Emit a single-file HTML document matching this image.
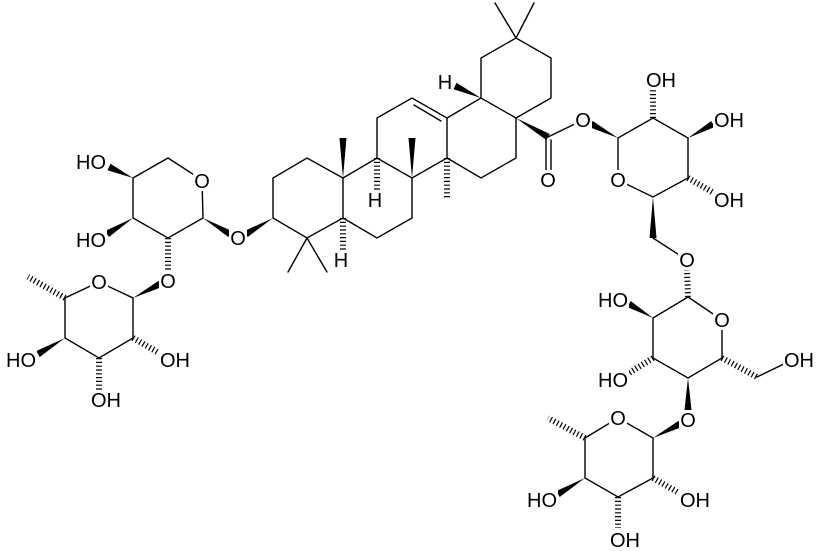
<!DOCTYPE html>
<html><head><meta charset="utf-8"><style>
html,body{margin:0;padding:0;background:#fff;}
svg{display:block;}
text{font-family:"Liberation Sans",Arial,sans-serif;font-size:20px;fill:#000;}
</style></head><body>
<svg width="822" height="551" viewBox="0 0 822 551" xmlns="http://www.w3.org/2000/svg">
<g stroke="#000" stroke-width="1.4" fill="none" stroke-linecap="round">
<!-- Arabinose -->
<polyline points="133,178 168,158 202,180 203,218 168,238 133,218 133,178"/>
<!-- Rha1 -->
<polyline points="99,282 133,298 133,338 99,358 65,338 65,298 99,282"/>
<!-- Ring A -->
<polyline points="273,218 273,178 307,158 343,178 343,218 307,238 273,218"/>
<line x1="307" y1="238" x2="288" y2="272"/><line x1="307" y1="238" x2="327" y2="272"/>
<!-- Ring B -->
<polyline points="343,218 377,238 412,218 412,178 377,158 343,178"/>
<!-- Ring C -->
<polyline points="377,158 377,118 412,98 447,118 447,158 412,178"/>
<line x1="414" y1="105" x2="441" y2="121"/>
<!-- Ring D -->
<polyline points="447,118 481,98 516,118 516,158 481,178 447,158"/>
<!-- Ring E -->
<polyline points="481,98 481,58 516,38 551,58 551,98 516,118"/>
<line x1="516" y1="38" x2="495" y2="3"/><line x1="516" y1="38" x2="534" y2="3"/>
<!-- ester -->
<line x1="548" y1="137" x2="583" y2="120"/>
<line x1="546" y1="138" x2="546" y2="174"/><line x1="551" y1="140" x2="551" y2="174"/>
<!-- Glc -->
<polyline points="618,180 653,197 688,178 688,138 653,118 618,138 618,180"/>
<line x1="653" y1="238" x2="687" y2="260"/>
<!-- Glc2 -->
<polyline points="722,320 722,358 688,378 653,358 653,318 688,297 722,320"/>
<line x1="757" y1="377" x2="792" y2="360"/>
<!-- Rha2 -->
<polyline points="618,418 585,438 585,478 618,497 653,478 653,438 618,418"/>
</g>
<!-- hashed bonds -->
<g stroke="#000" stroke-width="6" stroke-dasharray="1.2 2.6" fill="none">
<line x1="168" y1="238" x2="168" y2="272"/>
<line x1="65" y1="298" x2="28" y2="277"/>
<line x1="133" y1="338" x2="159" y2="353"/>
<line x1="99" y1="358" x2="99" y2="390"/>
<line x1="343" y1="218" x2="343" y2="250"/>
<line x1="377" y1="158" x2="377" y2="190"/>
<line x1="447" y1="158" x2="447" y2="198"/>
<line x1="653" y1="118" x2="653" y2="90"/>
<line x1="688" y1="178" x2="714" y2="193"/>
<line x1="688" y1="297" x2="687" y2="270"/>
<line x1="653" y1="358" x2="629" y2="373"/>
<line x1="722" y1="358" x2="757" y2="377"/>
<line x1="585" y1="438" x2="548" y2="418"/>
<line x1="653" y1="478" x2="679" y2="493"/>
<line x1="618" y1="497" x2="618" y2="528"/>
</g>
<!-- wedges -->
<g fill="#000">
<polygon points="133,178 110.5,163.8 107.5,170.2"/>
<polygon points="133,218 108.9,237 105.1,231"/>
<polygon points="203,218 228.3,237 231.7,231"/>
<polygon points="273,218 247.7,237 244.3,231"/>
<polygon points="133,298 161.5,287.1 158.5,280.9"/>
<polygon points="65,338 39.7,357 36.3,351"/>
<polygon points="343,178 339.5,138 346.5,138"/>
<polygon points="412,178 408.5,138 415.5,138"/>
<polygon points="481,98 456.5,82.8 453.5,89.2"/>
<polygon points="516,118 546.2,140 549.8,134"/>
<polygon points="618,138 592.6,120.9 589.4,127.1"/>
<polygon points="688,138 714.7,127 711.3,121"/>
<polygon points="653,197 649.5,238 656.5,238"/>
<polygon points="653,318 630.75,301 627.25,307"/>
<polygon points="688,378 684.5,410 691.5,410"/>
<polygon points="653,438 681.5,427.1 678.5,420.9"/>
<polygon points="585,478 559.7,497 556.3,491"/>
</g>
<!-- label backgrounds -->
<g fill="#fff">
<rect x="73" y="152" width="34" height="20"/><rect x="73" y="230" width="34" height="20"/>
<rect x="3" y="350" width="34" height="20"/><rect x="595" y="290" width="34" height="20"/>
<rect x="595" y="370" width="34" height="20"/><rect x="524" y="490" width="34" height="20"/>
<rect x="159" y="350" width="34" height="20"/><rect x="90" y="390" width="34" height="20"/>
<rect x="645" y="70" width="34" height="20"/><rect x="713" y="110" width="34" height="20"/>
<rect x="713" y="190" width="34" height="20"/><rect x="783" y="350" width="34" height="20"/>
<rect x="679" y="490" width="34" height="20"/><rect x="609" y="530" width="34" height="20"/>
<rect x="193" y="171" width="18" height="20"/><rect x="229" y="228" width="18" height="20"/>
<rect x="159" y="271" width="18" height="20"/><rect x="90" y="272" width="18" height="20"/>
<rect x="539" y="170" width="18" height="20"/><rect x="574" y="110" width="18" height="20"/>
<rect x="609" y="170" width="18" height="20"/><rect x="678" y="250" width="18" height="20"/>
<rect x="713" y="310" width="18" height="20"/><rect x="679" y="410" width="18" height="20"/>
<rect x="609" y="408" width="18" height="20"/>
<rect x="437" y="72" width="16" height="20"/><rect x="367" y="190" width="16" height="20"/>
<rect x="333" y="250" width="16" height="20"/>
</g>
<!-- labels -->
<g text-anchor="end">
<text x="106" y="169">HO</text><text x="106" y="247">HO</text>
<text x="36" y="367">HO</text><text x="628" y="307">HO</text>
<text x="628" y="387">HO</text><text x="557" y="507">HO</text>
</g>
<g text-anchor="start">
<text x="160" y="367">OH</text><text x="91" y="407">OH</text>
<text x="646" y="87">OH</text><text x="714" y="127">OH</text>
<text x="714" y="207">OH</text><text x="784" y="367">OH</text>
<text x="680" y="507">OH</text><text x="610" y="547">OH</text>
</g>
<g text-anchor="middle">
<text x="202" y="188">O</text><text x="238" y="245">O</text>
<text x="168" y="288">O</text><text x="99" y="289">O</text>
<text x="548" y="187">O</text><text x="583" y="127">O</text>
<text x="618" y="187">O</text><text x="687" y="267">O</text>
<text x="722" y="327">O</text><text x="688" y="427">O</text>
<text x="618" y="425">O</text>
<text x="445" y="89">H</text><text x="375" y="207">H</text><text x="341" y="267">H</text>
</g>
</svg>
</body></html>
